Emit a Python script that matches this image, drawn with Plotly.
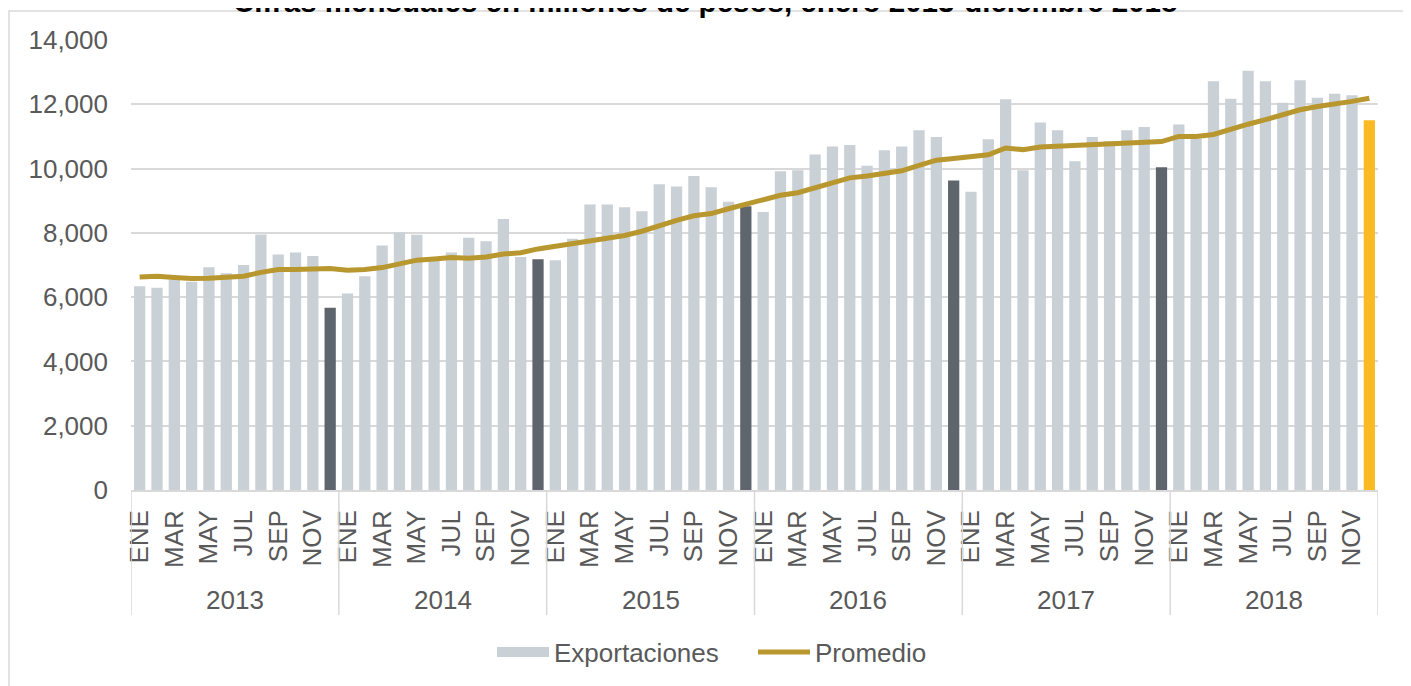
import plotly.graph_objects as go

years = ["2013", "2014", "2015", "2016", "2017", "2018"]
months = ["ENE", "FEB", "MAR", "ABR", "MAY", "JUN", "JUL", "AGO", "SEP", "OCT", "NOV", "DIC"]

exp_2013 = [6340, 6290, 6550, 6480, 6930, 6740, 7000, 7950, 7330, 7390, 7280, 5670]
exp_2014 = [6110, 6650, 7610, 8010, 7940, 7150, 7390, 7850, 7740, 8430, 7250, 7180]
exp_2015 = [7150, 7820, 8880, 8880, 8800, 8670, 9510, 9440, 9770, 9420, 8970, 8830]
exp_2016 = [8650, 9920, 9950, 10440, 10690, 10730, 10090, 10570, 10690, 11190, 10980, 9630]
exp_2017 = [9280, 10910, 12160, 9950, 11430, 11190, 10230, 10980, 10850, 11190, 11290, 10040]
exp_2018 = [11370, 10930, 12720, 12170, 13040, 12720, 12050, 12750, 12200, 12330, 12280, 11500]

prom_2013 = [6630, 6650, 6610, 6580, 6590, 6630, 6650, 6770, 6860, 6860, 6860, 6890]
prom_2014 = [6840, 6860, 6920, 7050, 7150, 7190, 7230, 7210, 7250, 7340, 7380, 7500]
prom_2015 = [7590, 7670, 7770, 7850, 7920, 8050, 8240, 8390, 8530, 8600, 8750, 8900]
prom_2016 = [9020, 9170, 9250, 9400, 9560, 9710, 9770, 9850, 9930, 10100, 10260, 10310]
prom_2017 = [10370, 10430, 10640, 10590, 10670, 10690, 10720, 10750, 10750, 10770, 10800, 10840]
prom_2018 = [11000, 11000, 11060, 11230, 11380, 11520, 11690, 11830, 11930, 12000, 12090, 12190]

y_ticks = [0, 2000, 4000, 6000, 8000, 10000, 12000, 14000]

exportaciones = exp_2013 + exp_2014 + exp_2015 + exp_2016 + exp_2017 + exp_2018
promedio = prom_2013 + prom_2014 + prom_2015 + prom_2016 + prom_2017 + prom_2018

n = len(exportaciones)
x = list(range(n))

LIGHT = "#C9D0D6"
DARK = "#5F656C"
GOLD = "#FBBA24"
LINE = "#B8972F"
GRID = "#D9D9D9"
TXT = "#595959"
FONT = "Liberation Sans, Arial, sans-serif"

colors = []
for i in range(n):
    if i == n - 1:
        colors.append(GOLD)
    elif i % 12 == 11:
        colors.append(DARK)
    else:
        colors.append(LIGHT)

tickvals = [i for i in range(n) if i % 2 == 0]
ticktext = [months[i % 12] for i in tickvals]

fig = go.Figure()
fig.add_trace(go.Bar(x=x, y=exportaciones, name="Exportaciones", showlegend=False,
                     legendgroup="exp",
                     marker=dict(color=colors, line=dict(width=0))))
# legend proxy for the bars (wide light-grey swatch as in the reference)
fig.add_trace(go.Scatter(x=[None], y=[None], name="Exportaciones", mode="lines",
                         legendgroup="exp", line=dict(color=LIGHT, width=14)))
fig.add_trace(go.Scatter(x=x, y=promedio, name="Promedio", mode="lines",
                         line=dict(color=LINE, width=5)))

OFF = 8  # page body margin
W, H = 1411 - OFF, 686 - OFF
ml, mr, mt, mb = 131 - OFF, 33, 40 - OFF, 196
pw = W - ml - mr
ph = H - mt - mb

def py(pix):
    return (H - mb - (pix - OFF)) / ph

def px(pix):
    return ((pix - OFF) - ml) / pw

shapes = []
for k in range(len(years) + 1):
    xb = k * 12 - 0.5
    shapes.append(dict(type="line", xref="x", yref="paper", x0=xb, x1=xb,
                       y0=0, y1=py(615), line=dict(color=GRID, width=1.5)))
shapes.append(dict(type="rect", xref="paper", yref="paper",
                   x0=px(9), x1=px(1407), y0=py(700), y1=py(11),
                   line=dict(color=GRID, width=1.5), fillcolor="rgba(0,0,0,0)", layer="below"))

annotations = []
for k, yr in enumerate(years):
    annotations.append(dict(x=k * 12 + 5.5, xref="x", y=py(600), yref="paper",
                            text=yr, showarrow=False, yanchor="middle", xanchor="center",
                            font=dict(size=26, color=TXT, family=FONT)))
annotations.append(dict(x=px(705), xref="paper", y=py(1), yref="paper",
                        text="<b>Cifras mensuales en millones de pesos, enero 2013-diciembre 2018</b>",
                        showarrow=False, yanchor="middle", xanchor="center",
                        font=dict(size=29.5, color="#000000", family=FONT)))

fig.update_layout(
    width=W, height=H,
    margin=dict(l=ml, r=mr, t=mt, b=mb, autoexpand=False),
    paper_bgcolor="white", plot_bgcolor="white",
    bargap=0.35,
    showlegend=True,
    legend=dict(orientation="h", x=px(492), xanchor="left", y=py(652), yanchor="middle",
                font=dict(size=26, color=TXT, family=FONT), bgcolor="rgba(0,0,0,0)",
                itemwidth=52, entrywidth=194, traceorder="normal"),
    xaxis=dict(range=[-0.5, n - 0.5], tickmode="array", tickvals=tickvals, ticktext=ticktext,
               tickangle=-90, showgrid=False, zeroline=False, showline=True,
               linecolor=GRID, linewidth=1.5, ticks="", ticklabelstandoff=8,
               tickfont=dict(size=26, color=TXT, family=FONT)),
    yaxis=dict(range=[0, 14000], tickmode="array", tickvals=y_ticks,
               ticktext=[f"{v:,}" for v in y_ticks], showgrid=True, gridcolor=GRID,
               gridwidth=1.5, zeroline=False, showline=False, ticks="",
               ticklabelstandoff=22, tickfont=dict(size=26, color=TXT, family=FONT)),
    shapes=shapes,
    annotations=annotations,
)

fig.write_html("out.html")
